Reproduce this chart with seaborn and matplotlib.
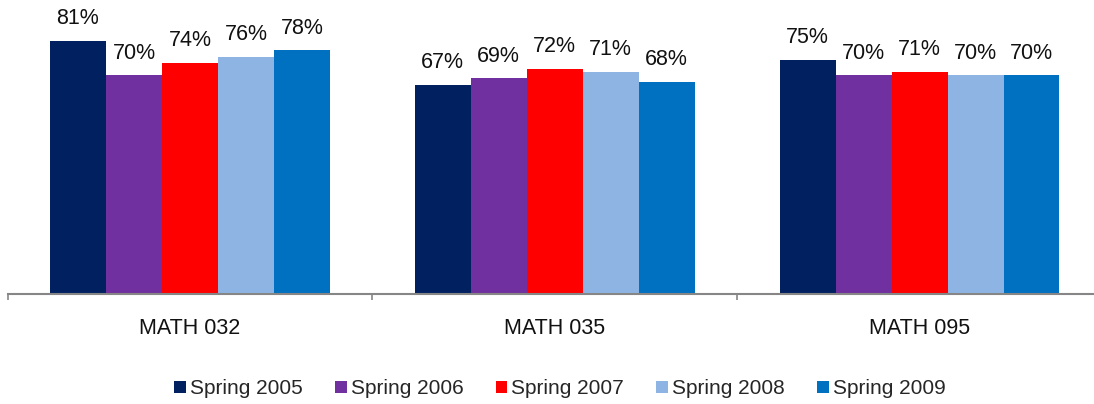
import pandas as pd
import matplotlib.pyplot as plt
import seaborn as sns

# data
courses = ['MATH 032', 'MATH 035', 'MATH 095']
terms = ['Spring 2005', 'Spring 2006', 'Spring 2007', 'Spring 2008', 'Spring 2009']
spring_2005 = [81, 67, 75]
spring_2006 = [70, 69, 70]
spring_2007 = [74, 72, 71]
spring_2008 = [76, 71, 70]
spring_2009 = [78, 68, 70]
colors = ['#002060', '#7030A0', '#FF0000', '#8EB4E3', '#0070C0']

series = [spring_2005, spring_2006, spring_2007, spring_2008, spring_2009]
rows = []
for term, vals in zip(terms, series):
    for course, v in zip(courses, vals):
        rows.append({'course': course, 'term': term, 'rate': v})
df = pd.DataFrame(rows)

sns.set_style('white')
plt.rcParams['font.family'] = ['Liberation Sans', 'DejaVu Sans']

fig = plt.figure(figsize=(10.94, 4.04), dpi=100)
ax = fig.add_axes([7.5 / 1094, 110.5 / 404, 1094.5 / 1094, 280.5 / 404])

sns.barplot(data=df, x='course', y='rate', hue='term', palette=colors,
            width=0.767, saturation=1, linewidth=0, ax=ax, legend=True)

for c in ax.containers:
    ax.bar_label(c, labels=[f'{v:.0f}%' for v in c.datavalues],
                 padding=8.5, fontsize=15.5, color='#111111')

ax.set_ylim(0, 90)
ax.set_xlim(-0.5, 2.5)
ax.set_yticks([])
ax.set_xlabel('')
ax.set_ylabel('')
for side in ['top', 'right', 'left']:
    ax.spines[side].set_visible(False)
ax.spines['bottom'].set_color('#868686')
ax.spines['bottom'].set_linewidth(1.5)

ax.set_xticks([0, 1, 2])
ax.set_xticklabels(courses, fontsize=15.5, color='#111111')
ax.tick_params(axis='x', which='major', length=0, pad=18)
ax.set_xticks([-0.5, 0.5, 1.5, 2.5], minor=True)
ax.tick_params(axis='x', which='minor', length=4.5, width=1.2,
               color='#868686', bottom=True)

handles, labels = ax.get_legend_handles_labels()
ax.get_legend().remove()
fig.legend(handles, labels, loc='center', bbox_to_anchor=(560 / 1094, 15 / 404),
           ncol=5, frameon=False, fontsize=15, handlelength=0.55,
           handleheight=0.55, handletextpad=0.2, columnspacing=1.55)

fig.savefig('out.png', dpi=100)
